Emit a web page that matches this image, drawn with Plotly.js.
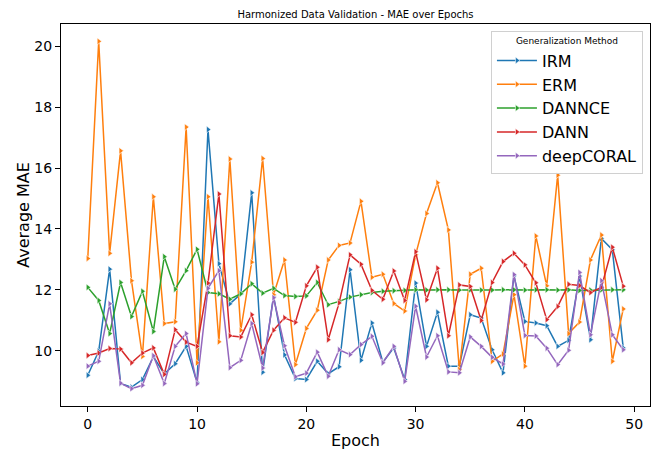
<!DOCTYPE html>
<html>
<head>
<meta charset="utf-8">
<script src="https://cdn.plot.ly/plotly-3.0.1.min.js"></script>
<style>
  html, body { margin: 0; padding: 0; background: #fff; }
  #chart { width: 660px; height: 454px; }
</style>
</head>
<body>
<div id="chart"></div>
<script>
const epochs = [0,1,2,3,4,5,6,7,8,9,10,11,12,13,14,15,16,17,18,19,20,21,22,23,24,25,26,27,28,29,30,31,32,33,34,35,36,37,38,39,40,41,42,43,44,45,46,47,48,49];

const irm = [9.19,9.98,12.68,8.92,8.80,9.05,9.80,9.24,9.57,10.14,
             8.95,17.27,12.86,11.54,11.86,15.19,9.29,11.80,9.86,9.08,
             9.05,9.65,9.24,9.47,12.66,9.68,10.91,9.62,10.09,9.05,
             12.22,10.14,11.26,9.49,9.49,11.18,11.07,10.03,9.27,12.46,
             10.96,10.91,10.82,10.14,10.34,12.45,10.36,13.69,13.32,10.09];

const erm = [13.03,20.17,13.20,16.57,12.30,9.81,15.06,10.89,10.95,17.35,
             9.60,15.06,10.29,16.30,10.67,12.91,16.32,11.84,12.98,9.54,
             10.73,11.33,12.98,13.46,13.54,14.91,12.41,12.51,11.55,11.30,
             13.15,14.51,15.52,13.97,9.38,12.51,12.71,9.65,9.89,11.84,
             9.49,13.77,12.13,15.77,10.56,10.94,12.98,13.80,9.65,11.37];

const dannce = [12.08,11.65,10.56,12.24,11.12,11.95,10.63,13.09,12.02,12.63,
                13.33,11.91,11.87,11.69,11.87,12.20,11.89,12.05,11.81,11.78,
                11.80,12.24,11.51,11.62,11.76,11.84,11.91,11.95,11.97,11.98,
                12.00,11.99,12.00,12.00,11.99,12.00,11.99,11.99,12.00,12.00,
                11.99,12.00,12.00,11.99,12.00,11.98,11.99,12.00,12.00,12.00];

const dann = [9.84,9.92,10.07,10.05,9.60,9.92,10.09,9.22,10.69,10.28,
              10.14,12.22,15.15,10.49,10.45,11.18,9.94,10.67,11.08,10.93,
              12.13,12.74,10.36,11.57,13.15,12.84,11.98,11.69,12.62,11.65,
              13.25,11.67,12.71,10.49,12.16,12.11,10.99,12.24,12.93,13.20,
              12.82,12.23,11.02,11.45,12.18,12.14,11.91,12.08,13.40,12.12];

const deepcoral = [9.49,9.65,11.54,8.93,8.75,8.86,9.83,8.92,10.14,10.56,
                   8.91,12.05,12.63,9.44,9.68,10.89,9.43,11.74,10.16,9.14,
                   9.26,9.95,9.16,10.03,9.87,10.20,10.47,9.60,10.14,8.99,
                   11.46,9.79,10.49,9.30,9.27,10.45,10.14,9.78,9.56,12.50,
                   10.50,10.48,10.08,9.54,10.01,12.57,10.52,12.30,10.52,10.03];

const seriesNames = ["IRM", "ERM", "DANNCE", "DANN", "deepCORAL"];
const seriesValues = [irm, erm, dannce, dann, deepcoral];
const seriesColors = ["#1f77b4", "#ff7f0e", "#2ca02c", "#d62728", "#9467bd"];

const traces = seriesNames.map((name, i) => ({
  x: epochs,
  y: seriesValues[i],
  name: name,
  type: "scatter",
  mode: "lines+markers",
  line: { color: seriesColors[i], width: 1.5 },
  marker: { symbol: "triangle-right", size: 6, color: seriesColors[i],
            line: { color: "white", width: 0.6 } }
}));

const font = "DejaVu Sans, sans-serif";

const layout = {
  width: 660, height: 454,
  margin: { l: 61, r: 10, t: 24, b: 48 },
  paper_bgcolor: "#fff", plot_bgcolor: "#fff",
  font: { family: font, color: "#000" },
  showlegend: true,
  title: {
    text: "Harmonized Data Validation - MAE over Epochs",
    font: { family: font, size: 10, color: "#000" },
    xref: "paper", x: 0.5, xanchor: "center",
    yref: "container", y: 1 - 14/454, yanchor: "middle"
  },
  xaxis: {
    range: [-2.45, 51.45],
    tickvals: [0, 10, 20, 30, 40, 50],
    ticks: "outside", ticklen: 5, tickwidth: 1, tickcolor: "#000",
    showgrid: false, zeroline: false,
    showline: true, linecolor: "#000", linewidth: 1, mirror: true,
    tickfont: { family: font, size: 14, color: "#000" },
    title: { text: "Epoch", font: { family: font, size: 16, color: "#000" }, standoff: 4 }
  },
  yaxis: {
    range: [8.179, 20.741],
    tickvals: [10, 12, 14, 16, 18, 20],
    ticks: "outside", ticklen: 5, tickwidth: 1, tickcolor: "#000",
    showgrid: false, zeroline: false,
    showline: true, linecolor: "#000", linewidth: 1, mirror: true,
    tickfont: { family: font, size: 14, color: "#000" },
    title: { text: "Average MAE", font: { family: font, size: 16, color: "#000" }, standoff: 0 }
  },
  legend: {
    x: 0.988, xanchor: "right",
    y: 0.982, yanchor: "top",
    itemwidth: 40,
    bgcolor: "rgba(255,255,255,0.85)",
    bordercolor: "#d0d0d0", borderwidth: 1,
    font: { family: font, size: 16, color: "#000" },
    title: { text: "Generalization Method", side: "top center",
             font: { family: font, size: 9, color: "#000" } }
  }
};

Plotly.newPlot("chart", traces, layout, { displayModeBar: false, staticPlot: true });
</script>
</body>
</html>
